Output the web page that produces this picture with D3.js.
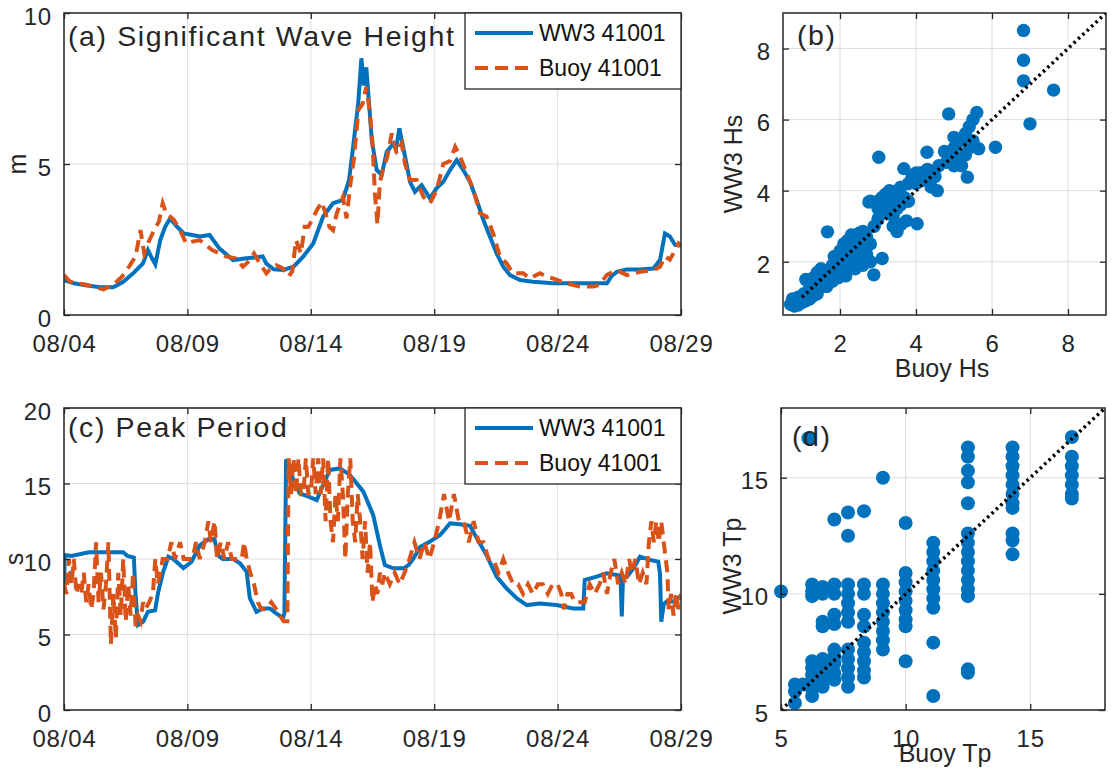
<!DOCTYPE html>
<html><head><meta charset="utf-8">
<script src="https://cdn.jsdelivr.net/npm/d3@7"></script>
<style>
html,body{margin:0;padding:0;background:#fff;}
svg{display:block;font-family:"Liberation Sans",Arial,Helvetica,sans-serif;}
</style></head>
<body>
<svg id="chart" width="1112" height="773"></svg>
<script>
// ---------------- DATA ----------------
const dateTickDays = [0, 5, 10, 15, 20, 25];
const dateTickLabels = ["08/04", "08/09", "08/14", "08/19", "08/24", "08/29"];
const seriesNames = ["WW3 41001", "Buoy 41001"];

// Significant wave height, [day since 08/04, metres]
const ww3Hs = [[0,1.15],[0.4,1.05],[0.8,0.99],[1.4,0.93],[2.0,0.92],[2.4,1.1],[2.8,1.38],[3.2,1.71],[3.4,2.15],[3.55,1.9],[3.7,1.68],[3.9,2.48],[4.1,2.92],[4.3,3.2],[4.55,2.95],[4.85,2.7],[5.2,2.65],[5.5,2.6],[5.9,2.65],[6.3,2.2],[6.85,1.82],[7.4,1.88],[8.05,1.94],[8.2,1.7],[8.5,1.51],[8.9,1.49],[9.3,1.6],[9.7,1.94],[10.1,2.37],[10.5,3.26],[10.9,3.7],[11.3,3.81],[11.55,4.47],[11.7,5.46],[11.92,7.0],[12.05,8.5],[12.15,7.6],[12.25,8.2],[12.33,7.34],[12.47,5.8],[12.67,4.8],[12.87,4.64],[13.08,5.41],[13.35,5.68],[13.45,5.5],[13.59,6.18],[13.82,5.24],[14.02,4.41],[14.22,4.08],[14.49,4.3],[14.83,3.86],[15.1,4.2],[15.37,4.41],[15.64,4.8],[15.91,5.13],[16.18,4.8],[16.45,4.41],[16.72,3.81],[16.99,3.15],[17.26,2.59],[17.53,2.04],[17.8,1.6],[18.07,1.32],[18.48,1.16],[19.0,1.1],[19.8,1.05],[20.6,1.05],[21.4,1.05],[22.0,1.05],[22.2,1.3],[22.4,1.43],[22.8,1.51],[23.34,1.51],[23.88,1.54],[24.15,1.82],[24.35,2.7],[24.55,2.6],[24.76,2.32],[25,2.3]];
const buoyHs = [[0,1.32],[0.25,1.1],[0.55,1.05],[0.9,1.0],[1.35,0.9],[1.6,0.85],[2.0,1.0],[2.35,1.27],[2.55,1.49],[2.9,1.94],[3.1,2.81],[3.25,2.04],[3.4,2.37],[3.65,2.81],[3.85,3.1],[4.0,3.7],[4.15,3.36],[4.45,3.15],[4.7,2.81],[4.95,2.37],[5.2,2.43],[5.5,2.48],[5.75,2.32],[6.0,2.15],[6.3,2.04],[6.55,1.94],[6.95,1.88],[7.25,1.6],[7.45,1.75],[7.7,2.04],[7.9,1.75],[8.2,1.38],[8.45,1.6],[8.6,1.65],[8.85,1.55],[9.1,1.27],[9.25,1.45],[9.4,2.48],[9.6,2.04],[9.75,2.92],[9.9,2.92],[10.05,3.15],[10.25,3.48],[10.45,3.74],[10.6,3.36],[10.75,2.92],[10.9,2.81],[11.05,3.36],[11.3,3.9],[11.45,3.2],[11.6,4.3],[11.75,5.2],[11.93,6.79],[12.1,7.0],[12.25,7.56],[12.38,6.8],[12.5,5.7],[12.6,4.0],[12.7,3.0],[12.8,4.4],[12.95,4.9],[13.1,5.24],[13.28,6.01],[13.48,5.35],[13.68,5.68],[13.82,5.0],[14.02,4.47],[14.29,4.47],[14.56,3.92],[14.83,3.7],[15.1,4.14],[15.37,5.0],[15.64,5.1],[15.85,5.57],[16.05,5.24],[16.32,4.69],[16.59,4.14],[16.85,3.37],[17.12,3.26],[17.39,2.7],[17.66,1.94],[17.93,1.71],[18.2,1.38],[18.61,1.38],[18.88,1.21],[19.28,1.38],[19.6,1.25],[19.82,1.21],[20.36,1.05],[20.9,0.94],[21.44,0.94],[21.7,1.0],[21.99,1.32],[22.39,1.49],[22.8,1.32],[23.34,1.43],[23.88,1.49],[24.15,1.6],[24.35,1.94],[24.55,1.83],[24.69,2.04],[24.9,2.37],[25,2.3]];

// Peak period, [day since 08/04, seconds]
const ww3Tp = [[0,7.73],[0.03,10.26],[0.3,10.2],[1.0,10.44],[2.4,10.44],[2.57,10.2],[2.83,10.1],[2.9,7.6],[3.0,5.63],[3.21,5.85],[3.4,6.51],[3.69,6.6],[3.82,7.83],[4.02,9.15],[4.23,10.15],[4.43,10.0],[4.84,9.4],[5.17,9.82],[5.5,10.9],[5.9,11.37],[6.1,11.3],[6.23,10.26],[6.43,10.0],[6.86,10.0],[7.13,9.72],[7.4,9.15],[7.53,7.4],[7.8,6.51],[8.07,6.73],[8.34,6.73],[8.6,6.4],[8.87,6.1],[8.93,6.4],[9.0,16.6],[9.28,15.3],[9.55,14.35],[9.96,14.1],[10.24,13.9],[10.5,14.9],[10.77,15.9],[11.18,16.0],[11.56,15.6],[11.72,15.3],[12.13,14.46],[12.53,12.9],[12.8,10.9],[13.0,9.6],[13.35,9.38],[13.76,9.38],[13.96,9.6],[14.16,10.04],[14.43,10.8],[14.83,11.15],[15.24,11.59],[15.64,12.36],[16.05,12.3],[16.45,12.2],[16.72,11.4],[17.12,10.26],[17.53,8.83],[17.93,8.06],[18.34,7.4],[18.75,6.95],[19.28,7.06],[19.96,6.95],[20.63,6.73],[21.04,6.73],[21.1,8.6],[21.58,8.83],[21.99,9.05],[22.39,8.94],[22.55,8.9],[22.6,6.2],[22.65,8.8],[22.8,8.8],[23.07,9.38],[23.34,10.15],[23.74,9.94],[24.08,9.82],[24.15,9.0],[24.2,5.85],[24.3,7.0],[24.42,7.18],[24.69,7.18],[24.96,7.51],[25,7.55]];
const buoyTp = [[0.0,8.33],[0.1,7.69],[0.2,10.0],[0.3,8.33],[0.4,10.0],[0.5,7.69],[0.6,8.33],[0.7,7.69],[0.8,9.09],[0.9,7.14],[1.0,8.33],[1.1,6.67],[1.2,7.69],[1.3,11.11],[1.4,7.14],[1.5,9.09],[1.6,6.67],[1.7,8.33],[1.8,11.11],[1.9,4.35],[2.0,7.69],[2.1,4.76],[2.2,9.09],[2.3,6.25],[2.4,10.0],[2.5,5.88],[2.6,8.33],[2.7,6.25],[2.8,9.09],[2.9,5.56],[3.0,6.25],[3.1,5.88],[3.2,7.14],[3.3,6.67],[3.45,7.14],[3.6,7.69],[3.7,10.0],[3.8,8.33],[3.9,9.09],[4.0,10.0],[4.2,10.0],[4.35,11.11],[4.5,10.0],[4.7,11.11],[4.85,10.0],[5.0,10.0],[5.2,10.0],[5.35,11.11],[5.5,10.0],[5.7,11.11],[5.85,12.5],[5.95,11.11],[6.1,12.5],[6.2,10.0],[6.35,11.11],[6.5,10.0],[6.65,11.11],[6.8,10.0],[7.0,10.0],[7.2,10.0],[7.3,11.11],[7.4,10.0],[7.55,9.09],[7.7,8.33],[7.85,7.14],[8.0,6.67],[8.2,6.67],[8.4,7.14],[8.6,6.67],[8.75,6.25],[8.9,5.88],[9.05,5.88],[9.1,16.67],[9.2,14.29],[9.3,16.67],[9.4,14.29],[9.5,16.67],[9.6,14.29],[9.7,14.29],[9.8,16.67],[9.9,14.29],[10.0,14.29],[10.1,16.67],[10.2,14.29],[10.3,16.67],[10.4,14.29],[10.5,16.67],[10.6,12.5],[10.7,16.67],[10.8,12.5],[10.9,11.11],[11.0,14.29],[11.1,12.5],[11.2,16.67],[11.3,14.29],[11.4,10.0],[11.5,14.29],[11.6,16.67],[11.7,12.5],[11.8,11.11],[11.9,14.29],[12.0,12.5],[12.1,10.0],[12.2,12.5],[12.3,9.09],[12.4,11.11],[12.5,7.14],[12.6,8.33],[12.7,7.69],[12.8,9.09],[12.9,8.33],[13.0,9.09],[13.2,8.33],[13.4,9.09],[13.6,8.33],[13.8,9.09],[14.0,10.0],[14.2,11.11],[14.4,10.0],[14.6,11.11],[14.8,10.0],[15.0,11.11],[15.2,12.5],[15.4,14.29],[15.6,12.5],[15.8,14.29],[16.0,12.5],[16.2,12.5],[16.4,11.11],[16.6,12.5],[16.8,11.11],[17.0,11.11],[17.2,10.0],[17.4,10.0],[17.6,9.09],[17.8,10.0],[18.0,9.09],[18.2,8.33],[18.4,8.33],[18.6,7.69],[18.8,8.33],[19.0,7.69],[19.2,8.33],[19.4,8.33],[19.6,7.69],[19.8,8.33],[20.0,8.33],[20.15,7.69],[20.25,6.67],[20.4,7.69],[20.55,7.69],[20.7,7.14],[20.9,7.14],[21.1,7.14],[21.3,8.33],[21.5,7.69],[21.7,8.33],[21.85,9.09],[22.0,7.69],[22.15,9.09],[22.3,10.0],[22.45,8.33],[22.6,9.09],[22.75,8.33],[22.9,10.0],[23.0,9.09],[23.15,10.0],[23.3,8.33],[23.45,9.09],[23.6,8.33],[23.7,11.11],[23.8,12.5],[23.9,11.11],[24.0,12.5],[24.1,11.11],[24.2,12.5],[24.3,11.11],[24.45,9.09],[24.5,6.67],[24.6,7.69],[24.7,6.25],[24.8,7.69],[24.9,6.67],[25.0,7.69]];

// Scatter (b): [Buoy Hs, WW3 Hs]
const hsScatter = [[0.7,0.8],[0.8,0.75],[0.9,0.78],[1.0,0.85],[1.1,0.9],[1.2,0.95],[0.75,0.95],[0.9,1.0],[1.05,1.1],[1.2,1.15],[1.3,1.05],[1.4,1.1],[1.0,1.0],
[1.1,1.5],[1.2,1.35],[1.3,1.55],[1.4,1.7],[1.5,1.8],[1.35,1.2],[1.5,1.3],[1.6,1.5],[1.7,1.75],[1.8,1.9],[1.65,1.3],[1.8,1.45],[1.9,1.6],[1.95,1.55],
[2.0,2.0],[2.0,2.3],[2.1,1.9],[2.1,2.5],[2.2,2.2],[2.2,2.6],[2.3,2.0],[2.3,2.4],[2.3,2.75],[2.4,1.8],[2.4,2.3],[2.5,2.6],[2.5,2.1],[2.5,2.8],[2.6,2.4],[2.6,1.9],[2.7,2.2],[2.7,2.7],[2.8,2.5],[2.8,2.0],[1.9,1.9],[1.85,2.15],[2.0,1.7],[2.15,1.6],[2.6,2.85],[1.67,2.84],[2.89,1.63],[3.11,2.09],
[2.9,3.0],[3.0,3.2],[3.0,3.5],[3.1,3.8],[3.2,3.4],[3.2,3.9],[3.3,3.6],[3.3,4.0],[3.4,3.3],[3.4,3.8],[3.5,3.5],[2.8,3.7],[3.0,3.7],[3.5,4.0],[3.6,3.6],[3.7,3.8],[3.6,4.1],[3.8,3.7],[3.8,4.2],[3.9,4.4],[4.0,4.2],[4.1,4.5],[3.5,2.85],[3.6,3.05],[3.4,3.0],[3.75,3.15],[4.03,3.07],[2.76,3.68],[3.68,4.62],[3.02,4.94],
[4.0,4.5],[4.2,4.3],[4.3,4.6],[4.4,4.1],[4.5,4.4],[4.6,4.7],[4.56,4.0],[4.47,4.48],[4.29,5.08],
[4.8,4.8],[4.9,5.0],[5.0,4.7],[5.0,5.2],[5.1,4.9],[5.2,5.4],[5.3,5.6],[5.3,5.0],[5.4,5.8],[5.5,6.0],[5.6,6.2],[5.5,5.4],[5.2,4.7],[5.35,4.38],[4.75,5.1],[5.65,5.18],[5.0,5.5],[5.4,5.2],[4.86,6.16],[6.09,5.22],
[6.83,8.51],[6.83,7.67],[6.83,7.09],[7.62,6.83],[7.0,5.88]];

// Scatter (d): [Buoy Tp, WW3 Tp]
const tpScatter = [[5.0,10.1],[5.56,5.3],[5.56,5.8],[5.56,6.1],[5.88,6.1],[6.1,16.7],
[6.25,10.4],[6.25,10.1],[6.25,9.9],[6.25,7.1],[6.25,6.8],[6.25,6.5],[6.25,6.2],[6.25,5.9],[6.25,5.6],
[6.67,10.3],[6.67,10.0],[6.67,8.8],[6.67,8.6],[6.67,7.2],[6.67,6.9],[6.67,6.6],[6.67,6.3],[6.67,6.0],
[7.14,13.2],[7.14,10.4],[7.14,10.0],[7.14,9.1],[7.14,8.7],[7.14,7.6],[7.14,7.3],[7.14,7.0],[7.14,6.6],[7.14,6.3],
[7.69,13.5],[7.69,12.5],[7.69,10.4],[7.69,10.0],[7.69,9.6],[7.69,9.2],[7.69,8.8],[7.69,7.6],[7.69,7.2],[7.69,6.8],[7.69,6.4],[7.69,6.0],
[8.33,13.56],[8.33,10.4],[8.33,10.0],[8.33,9.1],[8.33,8.6],[8.33,7.9],[8.33,7.5],[8.33,7.1],[8.33,6.7],[8.33,6.4],
[9.09,15.0],[9.09,10.4],[9.09,10.0],[9.09,9.6],[9.09,9.2],[9.09,8.8],[9.09,8.4],[9.09,8.0],[9.09,7.6],
[10.0,13.05],[10.0,10.9],[10.0,10.5],[10.0,10.1],[10.0,9.7],[10.0,9.3],[10.0,8.9],[10.0,8.6],[10.0,7.1],
[11.11,12.2],[11.11,11.8],[11.11,11.4],[11.11,11.0],[11.11,10.6],[11.11,10.2],[11.11,9.8],[11.11,9.4],[11.11,7.9],[11.11,5.6],
[12.5,16.3],[12.5,15.9],[12.5,15.3],[12.5,14.8],[12.5,13.9],[12.5,12.6],[12.5,12.2],[12.5,11.8],[12.5,11.4],[12.5,11.0],[12.5,10.6],[12.5,10.2],[12.5,9.9],[12.5,6.75],[12.5,6.6],
[14.29,16.3],[14.29,15.9],[14.29,15.5],[14.29,15.1],[14.29,14.7],[14.29,14.3],[14.29,13.9],[14.29,13.7],[14.29,12.6],[14.29,12.3],[14.29,11.7],
[16.67,16.75],[16.67,15.9],[16.67,15.5],[16.67,15.1],[16.67,14.7],[16.67,14.3],[16.67,14.1]];

const hsScatterTicks = [2, 4, 6, 8];
const tpScatterTicks = [5, 10, 15];
const hsTicks = [0, 5, 10];
const tpTicks = [0, 5, 10, 15, 20];

// ---------------- STYLE ----------------
const BLUE = "#0072BD", ORANGE = "#D95319", AX = "#262626", GRID = "#dedede";
const TICKFS = 24, TITLEFS = 28.5, LEGFS = 23, LABELFS = 25;

const svg = d3.select("#chart");
const defs = svg.append("defs");

function makePanel(id, box, xScale, yScale, xTicks, xFmt, yTicks) {
  const g = svg.append("g");
  const {l, r, t, b} = box;
  defs.append("clipPath").attr("id", "clip" + id)
    .append("rect").attr("x", l).attr("y", t).attr("width", r - l).attr("height", b - t);
  g.selectAll(".gx").data(xTicks).join("line")
    .attr("x1", d => xScale(d)).attr("x2", d => xScale(d)).attr("y1", t).attr("y2", b)
    .attr("stroke", GRID).attr("stroke-width", 1);
  g.selectAll(".gy").data(yTicks).join("line")
    .attr("y1", d => yScale(d)).attr("y2", d => yScale(d)).attr("x1", l).attr("x2", r)
    .attr("stroke", GRID).attr("stroke-width", 1);
  const data = g.append("g");
  const frame = g.append("g");
  return {g, data, frame, box, id, xScale, yScale, xTicks, xFmt, yTicks};
}

function finishPanel(p) {
  const {frame, box, xScale, yScale, xTicks, xFmt, yTicks} = p;
  const {l, r, t, b} = box;
  const TL = 6;
  const xb = d3.axisBottom(xScale).tickValues(xTicks).tickFormat(xFmt).tickSizeInner(-TL).tickSizeOuter(0).tickPadding(20);
  const ga = frame.append("g").attr("transform", `translate(0,${b})`).call(xb);
  const yl = d3.axisLeft(yScale).tickValues(yTicks).tickSizeInner(-TL).tickSizeOuter(0).tickPadding(12);
  const gy = frame.append("g").attr("transform", `translate(${l},0)`).call(yl);
  const xt = d3.axisTop(xScale).tickValues(xTicks).tickFormat("").tickSizeInner(-TL).tickSizeOuter(0);
  frame.append("g").attr("transform", `translate(0,${t})`).call(xt);
  const yr = d3.axisRight(yScale).tickValues(yTicks).tickFormat("").tickSizeInner(-TL).tickSizeOuter(0);
  frame.append("g").attr("transform", `translate(${r},0)`).call(yr);
  frame.selectAll(".domain").remove();
  frame.selectAll(".tick line").attr("stroke", AX).attr("stroke-width", 1.3);
  frame.selectAll(".tick text").attr("fill", AX).attr("font-size", TICKFS)
    .attr("font-family", '"Liberation Sans",Arial,sans-serif').attr("letter-spacing", 0.8);
  ga.selectAll(".tick text").attr("dy", "0.71em");
  gy.selectAll(".tick text").attr("dy", "0.46em");
  frame.append("rect").attr("x", l).attr("y", t).attr("width", r - l).attr("height", b - t)
    .attr("fill", "none").attr("stroke", AX).attr("stroke-width", 1.5);
}

function addLine(p, series, color, dashed) {
  const line = d3.line().x(d => p.xScale(d[0])).y(d => p.yScale(d[1]));
  p.data.append("path").datum(series)
    .attr("clip-path", `url(#clip${p.id})`)
    .attr("d", line).attr("fill", "none").attr("stroke", color)
    .attr("stroke-width", 4).attr("stroke-linejoin", "miter")
    .attr("stroke-dasharray", dashed ? "12,7" : null);
}

function addLegend(p, x0, y0, w, h) {
  const lg = p.g.append("g");
  lg.append("rect").attr("x", x0).attr("y", y0).attr("width", w).attr("height", h)
    .attr("fill", "#fff").attr("stroke", AX).attr("stroke-width", 1.3);
  const rows = [{name: seriesNames[0], color: BLUE, dash: null}, {name: seriesNames[1], color: ORANGE, dash: "13,7"}];
  rows.forEach((row, i) => {
    const cy = y0 + 20 + i * 35;
    lg.append("line").attr("x1", x0 + 10).attr("x2", x0 + 68).attr("y1", cy).attr("y2", cy)
      .attr("stroke", row.color).attr("stroke-width", 4).attr("stroke-dasharray", row.dash);
    lg.append("text").attr("x", x0 + 74).attr("y", cy).attr("dy", "0.36em")
      .attr("font-size", LEGFS).attr("fill", "#111").text(row.name);
  });
}

function addText(x, y, str, size, opts = {}) {
  const t = svg.append("text").attr("x", x).attr("y", y).attr("font-size", size)
    .attr("fill", opts.fill || "#262626").text(str);
  if (opts.anchor) t.attr("text-anchor", opts.anchor);
  if (opts.ls) t.attr("letter-spacing", opts.ls);
  if (opts.rotate) t.attr("transform", `rotate(-90,${x},${y})`);
  return t;
}

// ---------------- PANEL (a) ----------------
const boxA = {l: 64, r: 681, t: 13, b: 315};
const xA = d3.scaleLinear().domain([0, 25]).range([boxA.l, boxA.r]);
const yA = d3.scaleLinear().domain([0, 10]).range([boxA.b, boxA.t]);
const dateFmt = d => dateTickLabels[dateTickDays.indexOf(d)];
const pA = makePanel("A", boxA, xA, yA, dateTickDays, dateFmt, hsTicks);
addLine(pA, ww3Hs, BLUE, false);
addLine(pA, buoyHs, ORANGE, true);
finishPanel(pA);
addLegend(pA, 465, 13, 216, 76);

// ---------------- PANEL (c) ----------------
const boxC = {l: 64, r: 681, t: 408, b: 710};
const xC = d3.scaleLinear().domain([0, 25]).range([boxC.l, boxC.r]);
const yC = d3.scaleLinear().domain([0, 20]).range([boxC.b, boxC.t]);
const pC = makePanel("C", boxC, xC, yC, dateTickDays, dateFmt, tpTicks);
addLine(pC, ww3Tp, BLUE, false);
addLine(pC, buoyTp, ORANGE, true);
finishPanel(pC);
addLegend(pC, 465, 408, 216, 76);

// ---------------- PANEL (b) ----------------
const boxB = {l: 783, r: 1106, t: 13, b: 315};
const xB = d3.scaleLinear().domain([0.5, 9]).range([boxB.l, boxB.r]);
const yB = d3.scaleLinear().domain([0.5, 9]).range([boxB.b, boxB.t]);
const pB = makePanel("B", boxB, xB, yB, hsScatterTicks, d3.format("d"), hsScatterTicks);
pB.data.selectAll("circle").data(hsScatter).join("circle")
  .attr("cx", d => xB(d[0])).attr("cy", d => yB(d[1])).attr("r", 6.7).attr("fill", BLUE);
pB.data.append("line").attr("clip-path", "url(#clipB)")
  .attr("x1", xB(1)).attr("y1", yB(1)).attr("x2", xB(9)).attr("y2", yB(9))
  .attr("stroke", "#000").attr("stroke-width", 3.5).attr("stroke-dasharray", "2.5,3.5");
finishPanel(pB);

// ---------------- PANEL (d) ----------------
const boxD = {l: 781, r: 1105, t: 408, b: 710};
const xD = d3.scaleLinear().domain([5, 18]).range([boxD.l, boxD.r]);
const yD = d3.scaleLinear().domain([5, 18]).range([boxD.b, boxD.t]);
const pD = makePanel("D", boxD, xD, yD, tpScatterTicks, d3.format("d"), tpScatterTicks);
pD.data.selectAll("circle").data(tpScatter).join("circle")
  .attr("cx", d => xD(d[0])).attr("cy", d => yD(d[1])).attr("r", 7).attr("fill", BLUE);
pD.data.append("line").attr("clip-path", "url(#clipD)")
  .attr("x1", xD(5)).attr("y1", yD(5)).attr("x2", xD(18)).attr("y2", yD(18))
  .attr("stroke", "#000").attr("stroke-width", 3.5).attr("stroke-dasharray", "2.5,3.5");
finishPanel(pD);

// ---------------- TEXT ----------------
addText(68, 46, "(a) Significant Wave Height", TITLEFS, {ls: 1.6});
addText(68, 437, "(c) Peak Period", TITLEFS, {ls: 1.6});
addText(797, 45, "(b)", TITLEFS, {ls: 1.6});
addText(792, 446, "(d)", TITLEFS, {ls: 1.6});
addText(26, 164, "m", LABELFS, {anchor: "middle", rotate: true});
addText(23, 559, "s", LABELFS, {anchor: "middle", rotate: true});
addText(742, 164, "WW3 Hs", LABELFS, {anchor: "middle", rotate: true});
addText(942, 377, "Buoy Hs", LABELFS, {anchor: "middle"});
addText(741, 566, "WW3 Tp", LABELFS, {anchor: "middle", rotate: true});
addText(945, 762, "Buoy Tp", LABELFS, {anchor: "middle"});
</script>
</body></html>
